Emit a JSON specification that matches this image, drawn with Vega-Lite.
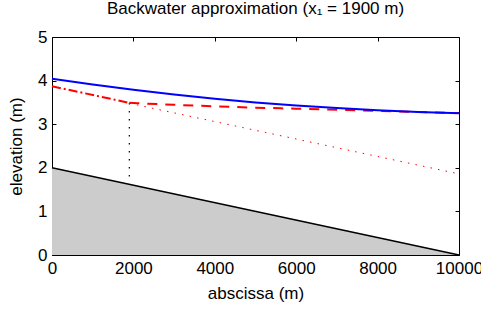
{
  "$schema": "https://vega.github.io/schema/vega-lite/v6.json",
  "autosize": "none",
  "width": 407,
  "height": 218,
  "padding": {"left": 52, "top": 37, "right": 22, "bottom": 54},
  "background": "white",
  "title": {"text": "Backwater approximation (x₁ = 1900 m)", "font": "Liberation Sans", "fontSize": 17, "fontWeight": "normal", "color": "black", "offset": 10},
  "config": {
    "view": {"stroke": null},
    "axis": {"labelFont": "Liberation Sans", "titleFont": "Liberation Sans", "labelFontSize": 17, "titleFontSize": 17, "titleFontWeight": "normal", "labelColor": "black", "titleColor": "black", "domainColor": "black", "tickColor": "black", "grid": false, "tickSize": -4, "labelFlush": false, "labelOverlap": false}
  },
  "datasets": {
    "bed": [{"x": 0, "y": 2}, {"x": 10000, "y": 0}],
    "exact": [
      {"x": 0, "y": 4.04}, {"x": 1000, "y": 3.91}, {"x": 2000, "y": 3.79}, {"x": 3000, "y": 3.68},
      {"x": 4000, "y": 3.585}, {"x": 5000, "y": 3.5}, {"x": 6000, "y": 3.43}, {"x": 7000, "y": 3.37},
      {"x": 8000, "y": 3.32}, {"x": 9000, "y": 3.28}, {"x": 10000, "y": 3.25}
    ],
    "upstream": [{"x": 0, "y": 3.87}, {"x": 1900, "y": 3.49}],
    "approx": [
      {"x": 1900, "y": 3.49}, {"x": 3000, "y": 3.445}, {"x": 4000, "y": 3.41}, {"x": 5000, "y": 3.38},
      {"x": 6000, "y": 3.355}, {"x": 7000, "y": 3.33}, {"x": 8000, "y": 3.305}, {"x": 9000, "y": 3.28}, {"x": 10000, "y": 3.255}
    ],
    "parallel": [{"x": 1900, "y": 3.48}, {"x": 10000, "y": 1.86}],
    "vertical": [{"x": 1900, "y": 1.8, "y2": 3.63}]
  },
  "layer": [
    {
      "data": {"name": "bed"},
      "mark": {"type": "area", "color": "#cccccc"},
      "encoding": {
        "x": {"field": "x", "type": "quantitative", "scale": {"domain": [0, 10000], "nice": false}, "axis": {"values": [0, 2000, 4000, 6000, 8000, 10000], "format": "d", "title": "abscissa (m)", "titlePadding": 9, "labelPadding": 9}},
        "y": {"field": "y", "type": "quantitative", "scale": {"domain": [0, 5], "nice": false}, "axis": {"values": [0, 1, 2, 3, 4, 5], "title": "elevation (m)", "titlePadding": 12, "labelPadding": 9}}
      }
    },
    {
      "data": {"name": "bed"},
      "mark": {"type": "line", "color": "black", "strokeWidth": 1.5},
      "encoding": {
        "x": {"field": "x", "type": "quantitative", "axis": {"orient": "top", "values": [0, 2000, 4000, 6000, 8000, 10000], "labels": false, "title": null}},
        "y": {"field": "y", "type": "quantitative", "axis": {"orient": "right", "values": [0, 1, 2, 3, 4, 5], "labels": false, "title": null}}
      }
    },
    {
      "data": {"name": "vertical"},
      "mark": {"type": "rule", "color": "black", "strokeWidth": 1.2, "strokeDash": [1.5, 6.5]},
      "encoding": {"x": {"field": "x", "type": "quantitative", "axis": null}, "y": {"field": "y", "type": "quantitative", "axis": null}, "y2": {"field": "y2"}}
    },
    {
      "data": {"name": "parallel"},
      "mark": {"type": "line", "color": "#ff0000", "strokeWidth": 1, "strokeDash": [1.5, 6.2]},
      "encoding": {"x": {"field": "x", "type": "quantitative", "axis": null}, "y": {"field": "y", "type": "quantitative", "axis": null}}
    },
    {
      "data": {"name": "upstream"},
      "mark": {"type": "line", "color": "#ff0000", "strokeWidth": 2, "strokeDash": [9, 3, 2, 3]},
      "encoding": {"x": {"field": "x", "type": "quantitative", "axis": null}, "y": {"field": "y", "type": "quantitative", "axis": null}}
    },
    {
      "data": {"name": "approx"},
      "mark": {"type": "line", "color": "#ff0000", "strokeWidth": 2, "strokeDash": [10, 8], "interpolate": "monotone"},
      "encoding": {"x": {"field": "x", "type": "quantitative", "axis": null}, "y": {"field": "y", "type": "quantitative", "axis": null}}
    },
    {
      "data": {"name": "exact"},
      "mark": {"type": "line", "color": "#0000ff", "strokeWidth": 2, "interpolate": "monotone"},
      "encoding": {"x": {"field": "x", "type": "quantitative", "axis": null}, "y": {"field": "y", "type": "quantitative", "axis": null}}
    }
  ],
  "resolve": {"axis": {"x": "independent", "y": "independent"}}
}
